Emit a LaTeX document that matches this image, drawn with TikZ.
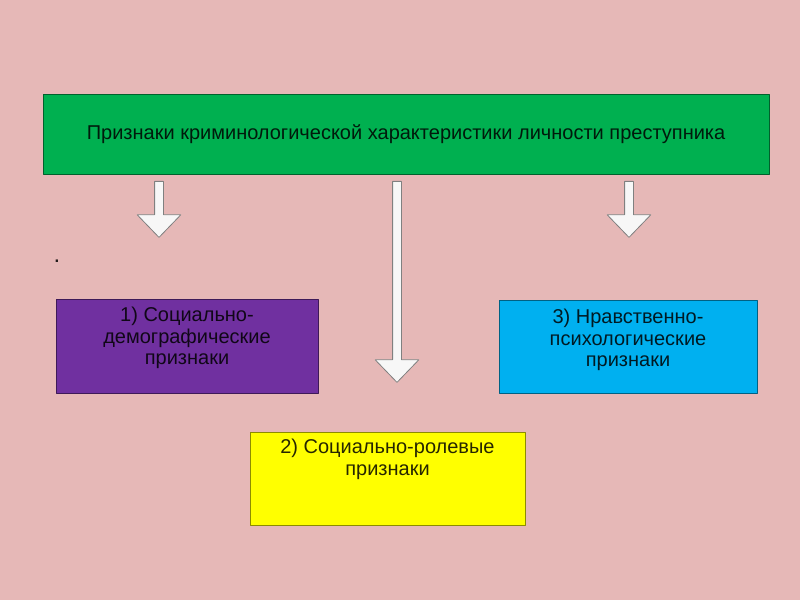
\documentclass[tikz,border=0pt]{standalone}
\usepackage{fontspec}
\setmainfont{Liberation Sans}
\usetikzlibrary{shapes.arrows, positioning}
\definecolor{bgpink}{HTML}{E6B8B7}
\definecolor{titlegreen}{HTML}{00B050}
\definecolor{socpurple}{HTML}{7030A0}
\definecolor{roleyellow}{HTML}{FFFF00}
\definecolor{psycyan}{HTML}{00B0F0}

\begin{document}
\begin{tikzpicture}[line join=bevel,
  box/.style={draw=#1!55!black, fill=#1, line width=0.8bp, inner sep=0bp},
  boxtext/.style={align=center, inner sep=0bp, text=black, text opacity=0.85,
    font=\fontsize{20bp}{21.5bp}\selectfont},
  blockarrow/.style={single arrow, draw=black!50, fill=white!97!black, line width=0.8bp,
    rotate=-90, anchor=tail, inner sep=4bp, single arrow head extend=17.5bp,
    single arrow tip angle=88, minimum height=#1},
]
%%
\fill[bgpink] (0bp,0bp) rectangle (800bp,600bp);
\node (node_title) at (406bp,466bp) [box=titlegreen, boxtext, minimum width=726bp, minimum height=80bp] {Признаки криминологической характеристики личности преступника};
  \node (node_1) at (187bp,254bp) [box=socpurple, minimum width=262bp, minimum height=94bp] {};
  \node (node_2) at (387.5bp,121.5bp) [box=roleyellow, minimum width=275bp, minimum height=93bp] {};
  \node (node_3) at (628bp,253.5bp) [box=psycyan, minimum width=258bp, minimum height=93bp] {};
  \node (text_1) [boxtext, below=8.5bp of node_1.north] {1) Социально-\\демографические\\признаки};
  \node (text_2) [boxtext, below=7.5bp of node_2.north] {2) Социально-ролевые\\признаки};
  \node (text_3) [boxtext, below=9.5bp of node_3.north] {3) Нравственно-\\психологические\\признаки};
  \node (node_dot) at (57bp,337.5bp) [boxtext, anchor=base, font=\fontsize{24bp}{24bp}\selectfont] {.};
%
\node (arrow_1) at (159bp,419bp) [blockarrow=56bp] {};
  \node (arrow_2) at (397bp,419bp) [blockarrow=201bp] {};
  \node (arrow_3) at (629bp,419bp) [blockarrow=56bp] {};
%
\end{tikzpicture}
\end{document}
